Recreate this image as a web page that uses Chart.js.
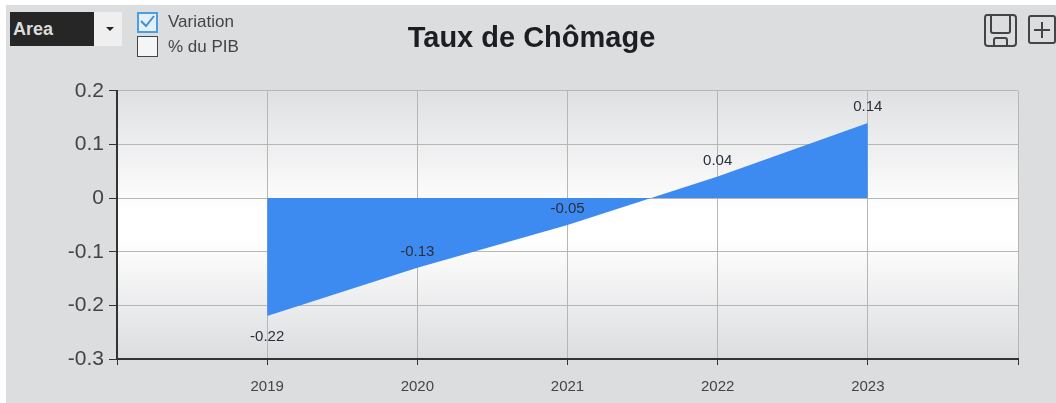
<!DOCTYPE html>
<html>
<head>
<meta charset="utf-8">
<title>Taux de Chômage</title>
<script src="https://cdn.jsdelivr.net/npm/chart.js@4/dist/chart.umd.min.js"></script>
<style>
    html, body { margin: 0; padding: 0; background: #fff; overflow: hidden; }
    body { width: 1056px; height: 403px; position: relative; font-family: "Liberation Sans", Arial, sans-serif; }
    .panel { position: absolute; left: 6px; top: 5px; width: 1050px; height: 398px; background: #dcddde; }
    .panel canvas { position: absolute; left: 39px; top: 0; }
    .combo { position: absolute; left: 10px; top: 12px; width: 112px; height: 34px; background: #efefef; }
    .combo .value { position: absolute; left: 0; top: 0; width: 84px; height: 34px; line-height: 34px; background: #262626; color: #dcdcdc; font-size: 18px; font-weight: bold; text-indent: 3px; }
    .combo .arrow { position: absolute; left: 96px; top: 15px; border: 4px solid transparent; border-top: 4px solid #222; border-bottom: 0; }
    .box { position: absolute; left: 137px; width: 19px; height: 19px; background: #f4f5f7; border: 1px solid #444; }
    .box.on { width: 17px; height: 17px; border: 2px solid #4a9fe0; background: #e4eff9; }
    .box svg { position: absolute; left: 0; top: 0; }
    .lbl { position: absolute; left: 168px; font-size: 17px; color: #444; line-height: 20px; }
    .tool { position: absolute; }
</style>
</head>
<body>
<div class="panel"><canvas id="chart" width="987" height="398"></canvas></div>
<div class="combo"><div class="value">Area</div><div class="arrow"></div></div>
<div class="box on" style="top:12px"><svg width="17" height="17"><path d="M2 7 L7 12 L15 2" fill="none" stroke="#3f8fd8" stroke-width="2"/></svg></div>
<div class="lbl" style="top:12px">Variation</div>
<div class="box" style="top:36px"></div>
<div class="lbl" style="top:37px">% du PIB</div>
<svg class="tool" style="left:984px;top:14px" width="34" height="34" fill="none" stroke="#444" stroke-width="2">
    <path d="M3 1 H29 Q32 1 32 4 V29 Q32 32 29 32 H4 Q1 32 1 29 V4 Q1 1 3 1 Z"/>
    <path d="M7 1 V17 Q7 19 9 19 H24 Q26 19 26 17 V1"/>
    <path d="M10 32 V26 Q10 24 12 24 H21 Q23 24 23 26 V32"/>
</svg>
<svg class="tool" style="left:1028px;top:15px" width="28" height="29" fill="none" stroke="#444" stroke-width="2">
    <rect x="1" y="1" width="26" height="27" rx="2"/>
    <path d="M6 15 H22 M14 7 V23"/>
</svg>
<script>
const years = [2019, 2020, 2021, 2022, 2023];
const variation = [-0.22, -0.13, -0.05, 0.04, 0.14];
const yTicks = [0.2, 0.1, 0, -0.1, -0.2, -0.3];

// fond du graphique + valeurs au-dessus des points
const plotBackground = {
    id: 'plotBackground',
    beforeDraw(chart) {
        const a = chart.chartArea;
        const g = chart.ctx.createLinearGradient(0, a.top, 0, a.bottom);
        g.addColorStop(0, '#dfe0e2');
        g.addColorStop(0.45, '#ffffff');
        g.addColorStop(0.55, '#ffffff');
        g.addColorStop(1, '#dcdddf');
        chart.ctx.save();
        chart.ctx.fillStyle = g;
        chart.ctx.fillRect(a.left, a.top, a.right - a.left, a.bottom - a.top);
        chart.ctx.restore();
    }
};

const pointLabels = {
    id: 'pointLabels',
    afterDatasetsDraw(chart) {
        const ctx = chart.ctx;
        ctx.save();
        ctx.font = '15px "Liberation Sans", Arial, sans-serif';
        ctx.fillStyle = '#2a2f3a';
        ctx.textAlign = 'center';
        ctx.textBaseline = 'middle';
        years.forEach((year, i) => {
            const x = chart.scales.x.getPixelForValue(year);
            const y = chart.scales.y.getPixelForValue(variation[i]);
            const offset = i === 0 ? 21 : -16; // la premiere valeur est sous le point
            ctx.fillText(variation[i].toString(), x, y + offset);
        });
        ctx.restore();
    }
};

new Chart(document.getElementById('chart'), {
    type: 'line',
    data: {
        datasets: [{
            label: 'Variation',
            data: years.map((year, i) => ({ x: year, y: variation[i] })),
            backgroundColor: '#3d8bf0',
            borderWidth: 0,
            pointRadius: 0,
            fill: 'origin',
            tension: 0
        }]
    },
    options: {
        responsive: false,
        animation: false,
        layout: { padding: { right: 14 } },
        plugins: {
            legend: { display: false },
            tooltip: { enabled: false },
            title: {
                display: true,
                text: 'Taux de Chômage',
                color: '#1e1e22',
                font: { family: '"Liberation Sans", Arial, sans-serif', size: 29, weight: 'bold' },
                padding: { top: 17, bottom: 34 }
            }
        },
        scales: {
            x: {
                type: 'linear',
                min: 2018,
                max: 2024,
                afterFit(scale) { scale.height = 44; },
                afterBuildTicks(scale) {
                    scale.ticks = [2018].concat(years, [2024]).map(v => ({ value: v }));
                },
                border: { color: '#333', width: 2 },
                grid: { color: '#b6b6b6', tickColor: '#333', tickLength: 6 },
                ticks: {
                    color: '#444',
                    font: { family: '"Liberation Sans", Arial, sans-serif', size: 15 },
                    maxRotation: 0,
                    padding: 13,
                    callback: v => (years.includes(v) ? String(v) : '')
                }
            },
            y: {
                min: -0.3,
                max: 0.2,
                afterFit(scale) { scale.width = 72; },
                afterBuildTicks(scale) {
                    scale.ticks = yTicks.map(v => ({ value: v }));
                },
                border: { color: '#333', width: 2 },
                grid: { color: '#b6b6b6', tickColor: '#333', tickLength: 8 },
                ticks: {
                    color: '#444',
                    font: { family: '"Liberation Sans", Arial, sans-serif', size: 21 },
                    padding: 5,
                    callback: v => String(v)
                }
            }
        }
    },
    plugins: [plotBackground, pointLabels]
});
</script>
</body>
</html>
